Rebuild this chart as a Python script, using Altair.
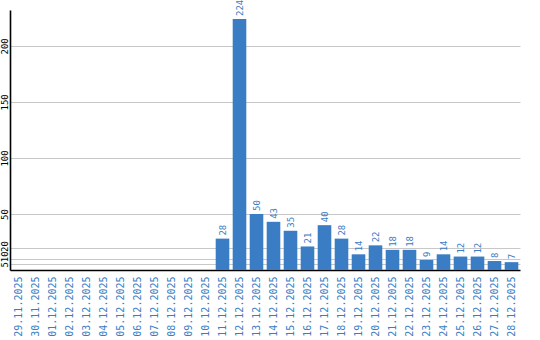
import altair as alt
import pandas as pd

dates = ["29.11.2025", "30.11.2025", "01.12.2025", "02.12.2025", "03.12.2025",
         "04.12.2025", "05.12.2025", "06.12.2025", "07.12.2025", "08.12.2025",
         "09.12.2025", "10.12.2025", "11.12.2025", "12.12.2025", "13.12.2025",
         "14.12.2025", "15.12.2025", "16.12.2025", "17.12.2025", "18.12.2025",
         "19.12.2025", "20.12.2025", "21.12.2025", "22.12.2025", "23.12.2025",
         "24.12.2025", "25.12.2025", "26.12.2025", "27.12.2025", "28.12.2025"]
counts = [0, 0, 0, 0, 0, 0, 0, 0, 0, 0, 0, 0,
          28, 224, 50, 43, 35, 21, 40, 28, 14, 22, 18, 18, 9, 14, 12, 12, 8, 7]
y_ticks = [5, 10, 20, 50, 100, 150, 200]

df = pd.DataFrame({"date": dates, "count": counts})
df["label"] = [str(c) if c > 0 else "" for c in counts]

BLUE = "#3a7dc4"
FONT = "DejaVu Sans Mono"

x = alt.X("date:N", sort=dates, title=None,
          scale=alt.Scale(paddingInner=0.2, paddingOuter=0.1),
          axis=alt.Axis(labelAngle=-90, labelAlign="right", labelBaseline="middle",
                        labelColor=BLUE, labelFont=FONT, labelFontSize=10,
                        labelPadding=6, ticks=False, tickSize=0,
                        domainColor="black", domainWidth=1.6, grid=False,
                        labelOverlap=False))
y = alt.Y("count:Q", title=None,
          scale=alt.Scale(domain=[0, 232], nice=False, zero=True),
          axis=alt.Axis(values=y_ticks, labelAngle=-90, labelAlign="center",
                        labelBaseline="bottom", labelFont=FONT, labelFontSize=9,
                        labelColor="black", labelPadding=1, ticks=False, tickSize=0,
                        labelOffset={"expr": "datum.value == 10 ? -2.5 : (datum.value == 20 ? -1.5 : 0)"},
                        domainColor="black", domainWidth=1.6, grid=True,
                        gridColor="#c8c8c8", gridWidth=1, labelOverlap=False))

bars = alt.Chart(df).mark_bar(color=BLUE).encode(x=x, y=y)
text = alt.Chart(df).mark_text(angle=270, align="left", baseline="middle", dx=3,
                               color=BLUE, font=FONT, fontSize=9).encode(
    x=alt.X("date:N", sort=dates), y="count:Q", text="label:N")

chart = (bars + text).properties(
    width=510, height=260,
    autosize=alt.AutoSizeParams(type="none"),
    padding={"left": 10, "top": 10, "right": 20, "bottom": 70},
    background="white",
).configure_view(stroke=None)

chart.save("out.html", embed_options={"renderer": "svg", "actions": False})
